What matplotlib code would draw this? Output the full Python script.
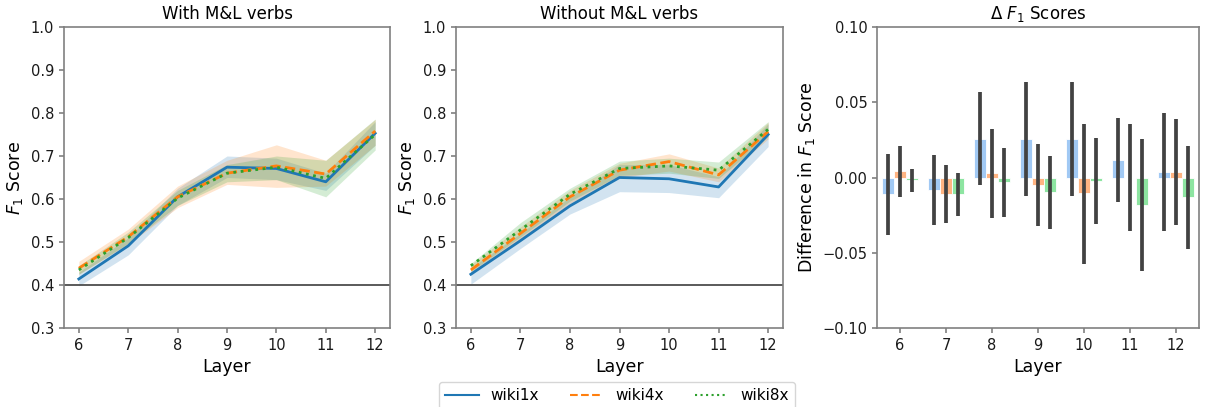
import numpy as np
from matplotlib import pyplot as plt
from matplotlib.lines import Line2D

# data
layers = [6, 7, 8, 9, 10, 11, 12]
models = ["wiki1x", "wiki4x", "wiki8x"]

# with M&L verbs
with_1x = [0.414, 0.491, 0.605, 0.674, 0.671, 0.640, 0.753]
with_1x_lo = [0.398, 0.470, 0.585, 0.650, 0.645, 0.620, 0.725]
with_1x_hi = [0.430, 0.510, 0.625, 0.700, 0.695, 0.660, 0.780]
with_4x = [0.439, 0.512, 0.605, 0.660, 0.677, 0.658, 0.758]
with_4x_lo = [0.425, 0.495, 0.580, 0.634, 0.627, 0.630, 0.725]
with_4x_hi = [0.455, 0.530, 0.630, 0.690, 0.726, 0.690, 0.785]
with_8x = [0.435, 0.510, 0.602, 0.660, 0.674, 0.648, 0.750]
with_8x_lo = [0.425, 0.497, 0.585, 0.640, 0.645, 0.605, 0.714]
with_8x_hi = [0.445, 0.523, 0.620, 0.680, 0.700, 0.690, 0.786]

# without M&L verbs
wo_1x = [0.425, 0.503, 0.584, 0.650, 0.647, 0.628, 0.750]
wo_1x_lo = [0.402, 0.485, 0.565, 0.617, 0.615, 0.603, 0.722]
wo_1x_hi = [0.440, 0.520, 0.605, 0.680, 0.680, 0.652, 0.775]
wo_4x = [0.435, 0.520, 0.605, 0.667, 0.687, 0.656, 0.757]
wo_4x_lo = [0.425, 0.505, 0.590, 0.650, 0.665, 0.640, 0.740]
wo_4x_hi = [0.447, 0.535, 0.620, 0.683, 0.705, 0.672, 0.778]
wo_8x = [0.445, 0.528, 0.611, 0.671, 0.677, 0.667, 0.762]
wo_8x_lo = [0.432, 0.512, 0.595, 0.655, 0.660, 0.648, 0.745]
wo_8x_hi = [0.450, 0.545, 0.625, 0.688, 0.695, 0.686, 0.780]

# delta F1 (with - without), bar heights and CI ends
d_1x = [-0.0111, -0.0082, 0.0256, 0.0256, 0.0256, 0.0118, 0.0036]
d_4x = [0.0040, -0.0109, 0.0027, -0.0049, -0.0104, 0.0000, 0.0036]
d_8x = [-0.0016, -0.0109, -0.0031, -0.0098, -0.0024, -0.0182, -0.0131]
d_1x_lo = [-0.0384, -0.0316, -0.0053, -0.0120, -0.0122, -0.0164, -0.0353]
d_1x_hi = [0.0156, 0.0151, 0.0569, 0.0633, 0.0636, 0.0398, 0.0427]
d_4x_lo = [-0.0127, -0.0302, -0.0267, -0.0322, -0.0573, -0.0356, -0.0316]
d_4x_hi = [0.0207, 0.0084, 0.0322, 0.0222, 0.0358, 0.0353, 0.0389]
d_8x_lo = [-0.0096, -0.0253, -0.0260, -0.0340, -0.0309, -0.0622, -0.0478]
d_8x_hi = [0.0056, 0.0031, 0.0193, 0.0140, 0.0260, 0.0253, 0.0211]

line_colors = ["#1f77b4", "#ff7f0e", "#2ca02c"]
bar_colors = ["#a1c9f4", "#ffb482", "#8de5a1"]
styles = ["-", "--", ":"]

W, H = 1207, 407
fig = plt.figure(figsize=(W / 100, H / 100), dpi=100)

def box(x0, x1, y0, y1):
    return [x0 / W, (H - y1) / H, (x1 - x0) / W, (y1 - y0) / H]

ax1 = fig.add_axes(box(64, 390, 27, 328))
ax2 = fig.add_axes(box(456, 783, 27, 328))
ax3 = fig.add_axes(box(877, 1199, 27, 328))

def style_axes(ax):
    for s in ax.spines.values():
        s.set_color("0.5")
        s.set_linewidth(1.2)
    ax.tick_params(colors="0.5", labelcolor="0.1", labelsize=10.5, width=1.2)

panels = [
    (ax1, "With M&L verbs",
     [(with_1x, with_1x_lo, with_1x_hi), (with_4x, with_4x_lo, with_4x_hi), (with_8x, with_8x_lo, with_8x_hi)]),
    (ax2, "Without M&L verbs",
     [(wo_1x, wo_1x_lo, wo_1x_hi), (wo_4x, wo_4x_lo, wo_4x_hi), (wo_8x, wo_8x_lo, wo_8x_hi)]),
]

for ax, title, series in panels:
    for k, (m, lo, hi) in enumerate(series):
        ax.fill_between(layers, lo, hi, color=line_colors[k], alpha=0.2, lw=0)
        ax.plot(layers, m, color=line_colors[k], ls=styles[k], lw=2)
    ax.axhline(0.4, color="0.3", lw=1.3)
    ax.set_ylim(0.3, 1.0)
    ax.set_xlim(5.7, 12.3)
    ax.set_xticks(layers)
    ax.set_yticks(np.arange(0.3, 1.01, 0.1))
    ax.set_title(title, fontsize=12)
    ax.set_xlabel("Layer", fontsize=12.5)
    ax.set_ylabel("$F_1$ Score", fontsize=12.5)
    style_axes(ax)

# delta bars
deltas = [(d_1x, d_1x_lo, d_1x_hi), (d_4x, d_4x_lo, d_4x_hi), (d_8x, d_8x_lo, d_8x_hi)]
bw = 0.8 / 3
x = np.arange(len(layers))
for k, (m, lo, hi) in enumerate(deltas):
    xs = x + (k - 1) * bw
    ax3.bar(xs, m, width=bw, color=bar_colors[k], edgecolor="white", lw=0.6)
    ax3.vlines(xs, lo, hi, color="#424242", lw=2.7)
ax3.set_xlim(-0.5, len(layers) - 0.5)
ax3.set_xticks(x)
ax3.set_xticklabels([str(l) for l in layers])
ax3.set_ylim(-0.10, 0.10)
ax3.set_yticks([-0.10, -0.05, 0.0, 0.05, 0.10])
ax3.set_title("$\\Delta$ $F_1$ Scores", fontsize=12)
ax3.set_xlabel("Layer", fontsize=12.5)
ax3.set_ylabel("Difference in $F_1$ Score", fontsize=12.5)
style_axes(ax3)

handles = [Line2D([], [], color=line_colors[k], ls=styles[k], lw=1.5) for k in range(3)]
fig.legend(handles=handles, labels=models, loc="lower center", ncol=3,
           bbox_to_anchor=(617 / W, -0.025), fontsize=11, handlelength=2.2,
           handletextpad=0.8, columnspacing=2.0, fancybox=True)

plt.savefig("out.png", dpi=100)
